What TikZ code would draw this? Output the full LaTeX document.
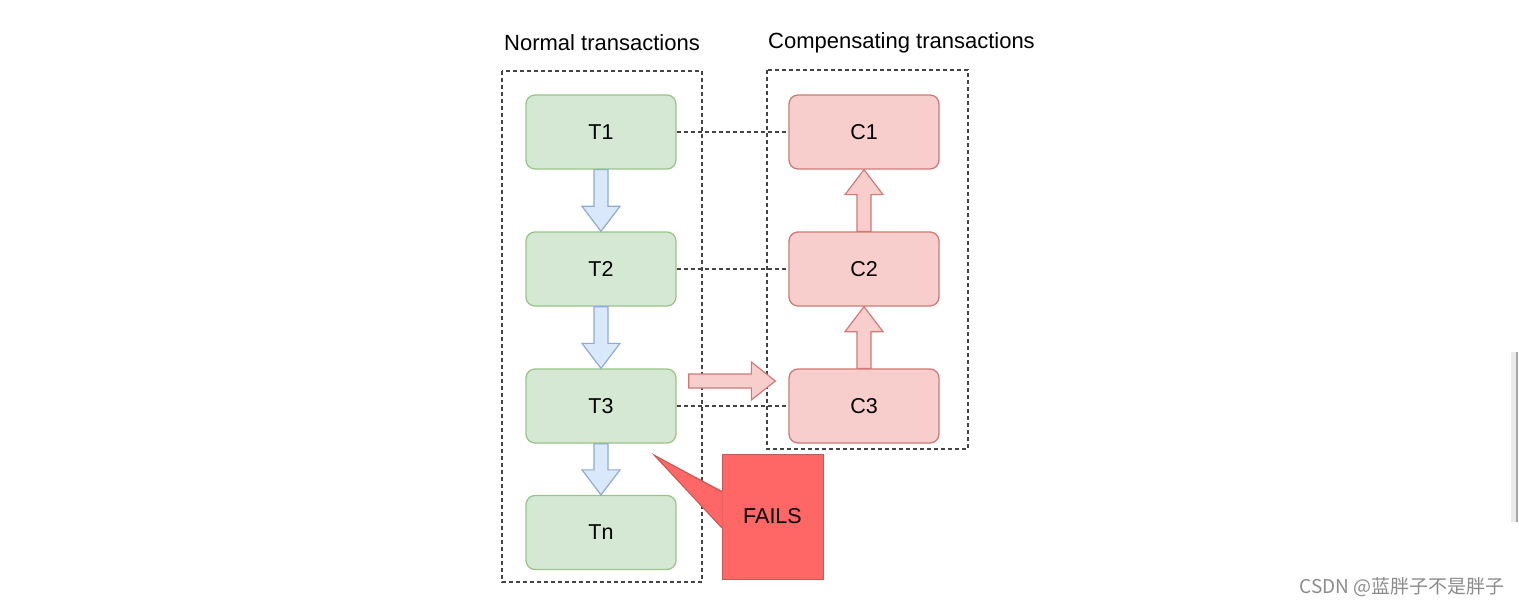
\documentclass[tikz,border=0pt]{standalone}
\usepackage{fontspec}
\setmainfont{Liberation Sans}
\newfontfamily\cjkfont{Noto Sans CJK SC}
\usetikzlibrary{calc}
\definecolor{gfill}{HTML}{D5E8D4}
\definecolor{gdraw}{HTML}{9CC48A}
\definecolor{rfill}{HTML}{F8CECC}
\definecolor{rdraw}{HTML}{D07A76}
\definecolor{bfill}{HTML}{DAE8FC}
\definecolor{bdraw}{HTML}{8FAAD6}
\definecolor{failfill}{HTML}{FF6666}
\definecolor{faildraw}{HTML}{C25A55}
\definecolor{dashcol}{HTML}{444444}
\tikzset{
  tbox/.style={draw=gdraw, fill=gfill, line width=1.3pt, rounded corners=9pt,
    minimum width=150pt, minimum height=74pt, inner sep=0pt,
    font=\fontsize{21.5}{24}\selectfont},
  cbox/.style={draw=rdraw, fill=rfill, line width=1.3pt, rounded corners=9pt,
    minimum width=150pt, minimum height=74pt, inner sep=0pt,
    font=\fontsize{21.5}{24}\selectfont},
  groupbox/.style={draw=dashcol, line width=1.2pt, dash pattern=on 4pt off 3pt},
  link/.style={draw=dashcol, line width=1.2pt, dash pattern=on 4pt off 3pt},
  blue arrow/.style={draw=bdraw, fill=bfill, line width=1.2pt, line join=miter},
  red arrow/.style={draw=rdraw, fill=rfill, line width=1.2pt, line join=miter},
  title/.style={font=\fontsize{22}{26}\selectfont, inner sep=0pt},
}
\begin{document}
\begin{tikzpicture}[x=1pt, y=-1pt]
\useasboundingbox[fill=white] (0,0) rectangle (1519,607);

% group boxes
\draw[groupbox] (502,71) rectangle (702,582);
\draw[groupbox] (767,70) rectangle (968,449);

\node[title] (tl) at (602,43) {Normal transactions};
\node[title] (tr) at (901.5,43) {Compensating transactions};

% transactions
\node[tbox] (T1) at (601,132) {T1};
\node[tbox] (T2) at (601,269) {T2};
\node[tbox] (T3) at (601,406) {T3};
\node[tbox] (Tn) at (601,532.5) {Tn};

\node[cbox] (C1) at (864,132) {C1};
\node[cbox] (C2) at (864,269) {C2};
\node[cbox] (C3) at (864,406) {C3};

% dashed links
\draw[link] (T1.east) -- (C1.west);
\draw[link] (T2.east) -- (C2.west);
\draw[link] (T3.east) -- (C3.west);

% blue down arrows
\foreach \a/\b in {T1/T2, T2/T3, T3/Tn}{
  \path[blue arrow] let \p1=(\a.south), \p2=(\b.north) in
    (\x1-7pt,\y1) -- (\x1+7pt,\y1) -- (\x1+7pt,\y2+25pt) -- (\x1+19pt,\y2+25pt)
    -- (\x1,\y2) -- (\x1-19pt,\y2+25pt) -- (\x1-7pt,\y2+25pt) -- cycle;
}

% red up arrows
\foreach \a/\b in {C3/C2, C2/C1}{
  \path[red arrow] let \p1=(\a.north), \p2=(\b.south) in
    (\x1-7pt,\y1) -- (\x1+7pt,\y1) -- (\x1+7pt,\y2-25pt) -- (\x1+19pt,\y2-25pt)
    -- (\x1,\y2) -- (\x1-19pt,\y2-25pt) -- (\x1-7pt,\y2-25pt) -- cycle;
}

% red right arrow T3 -> C3
\coordinate (ra) at ($(T3.east)+(12,-25)$);
\coordinate (rb) at ($(C3.west)+(-13,-25)$);
\path[red arrow] let \p1=(ra), \p2=(rb) in
  (\x1,\y1+7pt) -- (\x2-24pt,\y1+7pt) -- (\x2-24pt,\y1+19pt) -- (\x2,\y1)
  -- (\x2-24pt,\y1-19pt) -- (\x2-24pt,\y1-7pt) -- (\x1,\y1-7pt) -- cycle;

% FAILS callout
\node[draw=faildraw, fill=failfill, line width=1pt, minimum width=101pt, minimum height=125pt,
  inner sep=0pt, font=\fontsize{21.5}{24}\selectfont] (F) at (772.5,516.5) {FAILS};
\coordinate (tip) at (654,455);
\fill[failfill] (722.5,491) -- (tip) -- (722.5,529) -- cycle;
\draw[faildraw, line width=1pt, line join=miter] (722,492) -- (tip) -- (722,528);

% watermark
\node[font=\cjkfont\fontsize{19}{22}\selectfont, text=black!45, inner sep=0pt, anchor=east] (wm) at (1505,587) {CSDN @蓝胖子不是胖子};

% right-edge artifact
\fill[black!8] (1511,352) rectangle (1516,522);
\draw[black!35, line width=2pt] (1517,352) -- (1517,522);
\end{tikzpicture}
\end{document}
